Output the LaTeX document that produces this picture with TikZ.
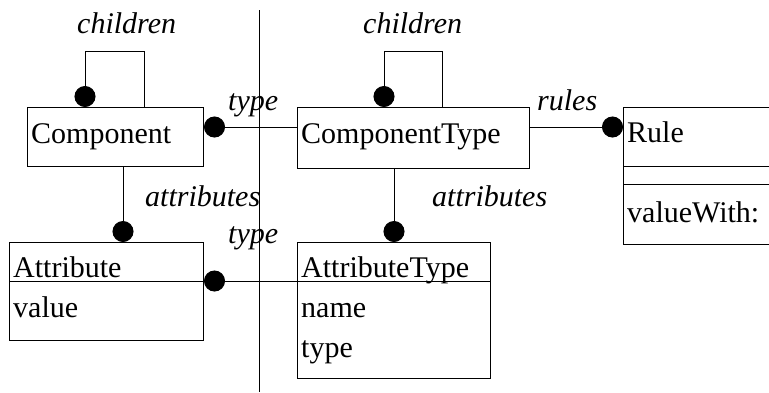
\documentclass[tikz,border=0pt]{standalone}
\usepackage{fontspec}
\setmainfont{Liberation Serif}
\usetikzlibrary{arrows.meta}
\begin{document}
\begin{tikzpicture}[x=1pt,y=-1pt,
	box/.style={draw,line width=1pt,rectangle,anchor=north west,inner sep=0pt},
	txt/.style={anchor=base west,inner sep=0pt,font=\fontsize{30}{36}\selectfont},
	lbl/.style={anchor=base west,inner sep=0pt,font=\fontsize{30}{36}\selectfont\itshape},
	link/.style={line width=0.9pt,-{Circle[length=21pt]}}]
	\useasboundingbox (0,0) rectangle (769,392);
	\clip (0,0) rectangle (769,392);
	
	% the class boxes
	\node[box,minimum width=176,minimum height=59] (comp) at (27,107) {};
	\node[box,minimum width=232,minimum height=61] (ctype) at (297,107) {};
	\node[box,minimum width=170,minimum height=137] (rule) at (623,107) {};
	\node[box,minimum width=194,minimum height=98] (attr) at (9,242) {};
	\node[box,minimum width=193,minimum height=136] (atype) at (297,242) {};
	
	\node[txt] (compname) at (31,143) {Component};
	\node[txt] (ctypename) at (301,143) {ComponentType};
	\node[txt] (rulename) at (627,142) {Rule};
	\node[txt] (rulemeth) at (627,222) {valueWith:};
	\node[txt] (attrname) at (13,277) {Attribute};
	\node[txt] (attrval) at (13,317) {value};
	\node[txt] (atypename) at (301,277) {AttributeType};
	\node[txt] (atypefa) at (301,317) {name};
	\node[txt] (atypefb) at (301,357) {type};
	
	% compartments
	\draw[line width=1pt] (rule.west |- 0,166) -- (rule.east |- 0,166);
	\draw[line width=1pt] (rule.west |- 0,184) -- (rule.east |- 0,184);
	\draw[line width=1pt] (attr.west |- 0,281) -- (attr.east |- 0,281);
	\draw[line width=1pt] (atype.west |- 0,281) -- (atype.east |- 0,281);
	
	% the divider
	\draw[line width=0.9pt] (259,10) -- (259,392);
	
	% associations
	\draw[link] (comp.north -| 144,0) -- (144,51) -- (85,51) -- (comp.north -| 85,0);
	\draw[link] (ctype.north -| 442,0) -- (442,51) -- (384,51) -- (ctype.north -| 384,0);
	\draw[link] (ctype.west |- 0,127) -- (comp.east |- 0,127);
	\draw[link] (ctype.east |- 0,127) -- (rule.west |- 0,127);
	\draw[link] (comp.south -| 123,0) -- (attr.north -| 123,0);
	\draw[link] (ctype.south -| 394,0) -- (atype.north -| 394,0);
	\draw[link] (atype.west |- 0,281) -- (attr.east |- 0,281);
	
	\node[lbl] (childa) at (77,33) {children};
	\node[lbl] (childb) at (363,33) {children};
	\node[lbl] (typea) at (228,110) {type};
	\node[lbl] (rules) at (537,110) {rules};
	\node[lbl] (attra) at (145,206) {attributes};
	\node[lbl] (attrb) at (432,206) {attributes};
	\node[lbl] (typeb) at (228,243) {type};
\end{tikzpicture}
\end{document}
